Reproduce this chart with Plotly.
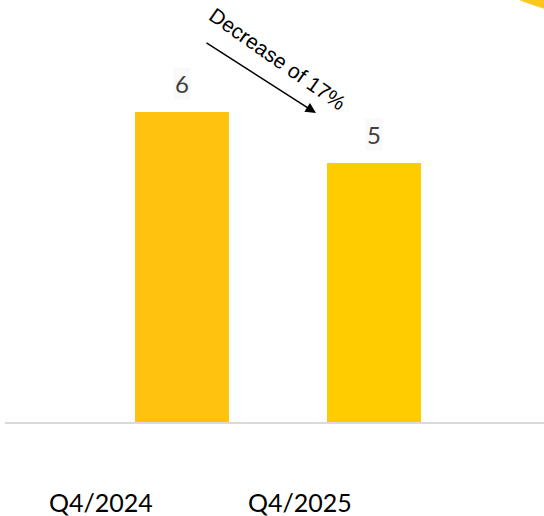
import plotly.graph_objects as go

categories = ["Q4/2024", "Q4/2025"]
values = [6, 5]
bar_colors = ["#FFC20E", "#FFCC00"]
value_labels = ["6", "5"]
callout_text = "Decrease of 17%"

x_pos = list(range(len(categories)))

fig = go.Figure()
fig.add_trace(go.Bar(
    x=x_pos, y=values, width=0.49,
    marker=dict(color=bar_colors, line=dict(width=0)),
    hoverinfo="skip", showlegend=False,
))

annotations = []
# value labels above bars
for xi, v, lab in zip(x_pos, values, value_labels):
    annotations.append(dict(
        x=xi, y=v, xref="x", yref="y", text=lab, showarrow=False,
        yanchor="bottom", yshift=12,
        font=dict(family="Lato", size=24, color="#404040"),
        bgcolor="#F9F9F9",
    ))
# category labels (offset to the left of the bars)
cat_shifts = [-81, -74]
for xi, c, s in zip(x_pos, categories, cat_shifts):
    annotations.append(dict(
        x=xi, y=0, xref="x", yref="y", text=c, showarrow=False,
        yanchor="middle", yshift=-80, xshift=s,
        font=dict(family="Lato", size=25, color="#000000"),
    ))
# arrow
annotations.append(dict(
    x=(316 - 5) / 539, y=(422 - 113) / 422, xref="paper", yref="paper",
    ax=-111, ay=-71, axref="pixel", ayref="pixel",
    showarrow=True, arrowhead=2, arrowsize=1.4, arrowwidth=1.5,
    arrowcolor="#000000", text="", standoff=0,
))
# callout text
annotations.append(dict(
    x=(277 - 5) / 539, y=(422 - 59) / 422, xref="paper", yref="paper",
    text=callout_text, showarrow=False, textangle=35,
    xanchor="center", yanchor="middle",
    font=dict(family="Liberation Sans", size=21, color="#000000"),
))

fig.update_layout(
    width=544, height=516,
    margin=dict(l=5, r=0, t=0, b=94),
    paper_bgcolor="white", plot_bgcolor="white",
    bargap=0,
    xaxis=dict(range=[-0.922, 1.885], showticklabels=False, showgrid=False,
               zeroline=False, showline=True, linecolor="#D9D9D9", linewidth=2,
               ticks=""),
    yaxis=dict(range=[0, 8.16], visible=False),
    annotations=annotations,
    shapes=[dict(
        type="circle", xref="paper", yref="paper",
        x0=(650 - 355 - 5) / 539, x1=(650 + 355 - 5) / 539,
        y0=(422 + 330 - 355) / 422, y1=(422 + 330 + 355) / 422,
        fillcolor="#FFC61E", line=dict(width=0), layer="above",
    )],
)

fig.write_html(
    "out.html",
    config={"displayModeBar": False},
    post_script="document.body.style.margin='0';document.body.style.overflow='hidden';",
)
